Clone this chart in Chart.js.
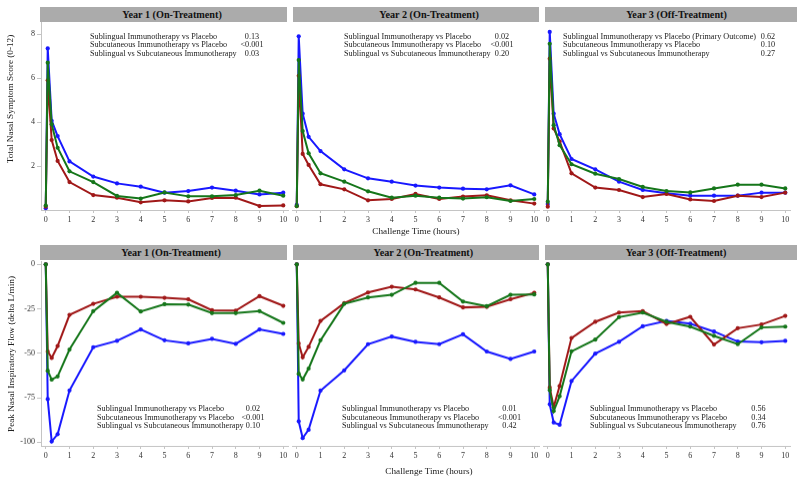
<!DOCTYPE html>
<html><head><meta charset="utf-8">
<script src="https://cdn.jsdelivr.net/npm/chart.js@4"></script>
<style>
html,body{margin:0;padding:0;background:#fff;}
body{width:800px;height:482px;position:relative;overflow:hidden;font-family:"Liberation Serif","Times New Roman",serif;color:#222;}
.hdr{position:absolute;background:#ababab;height:15px;}
.hdrtxt{position:absolute;font-weight:bold;font-size:10.2px;line-height:15px;white-space:nowrap;transform:translateX(-50%);color:#111;}
.cv{position:absolute;}
.ann{position:absolute;font-size:8.2px;line-height:9px;white-space:nowrap;}
.val{position:absolute;font-size:8.2px;line-height:9px;white-space:nowrap;transform:translateX(-50%);}
.xt{position:absolute;font-size:9.2px;white-space:nowrap;transform:translate(-50%,-50%);}
.yt{position:absolute;font-size:9.2px;white-space:nowrap;transform:translate(-50%,-50%) rotate(-90deg);}
</style></head><body>
<script>
// ---------------- DATA ----------------
const times = [0, 0.083, 0.25, 0.5, 1, 2, 3, 4, 5, 6, 7, 8, 9, 10];
const xTickValues = [0, 1, 2, 3, 4, 5, 6, 7, 8, 9, 10];
const tnssTicks = [2, 4, 6, 8];
const pnifTicks = [-100, -75, -50, -25, 0];
const panelTitles = ["Year 1 (On-Treatment)", "Year 2 (On-Treatment)", "Year 3 (Off-Treatment)"];

// Total Nasal Symptom Score
const tnssPlaceboY1 = [0.08, 7.35, 4.06, 3.36, 2.21, 1.52, 1.21, 1.06, 0.79, 0.86, 1.02, 0.88, 0.71, 0.79];
const tnssSlitY1    = [0.20, 6.70, 3.90, 2.83, 1.76, 1.27, 0.64, 0.52, 0.80, 0.62, 0.62, 0.68, 0.88, 0.65];
const tnssScitY1    = [0.15, 5.90, 3.18, 2.23, 1.27, 0.68, 0.56, 0.35, 0.44, 0.39, 0.55, 0.56, 0.18, 0.21];
const tnssPlaceboY2 = [0.23, 7.90, 4.38, 3.33, 2.68, 1.85, 1.44, 1.29, 1.11, 1.02, 0.97, 0.94, 1.12, 0.71];
const tnssSlitY2    = [0.18, 6.82, 3.59, 2.58, 1.67, 1.29, 0.85, 0.56, 0.65, 0.56, 0.52, 0.58, 0.41, 0.50];
const tnssScitY2    = [0.17, 6.10, 2.55, 2.05, 1.17, 0.94, 0.44, 0.50, 0.73, 0.50, 0.61, 0.67, 0.44, 0.29];
const tnssPlaceboY3 = [0.27, 8.10, 4.38, 3.45, 2.32, 1.85, 1.29, 0.91, 0.76, 0.65, 0.65, 0.65, 0.79, 0.79];
const tnssSlitY3    = [0.38, 7.56, 3.86, 2.95, 2.08, 1.65, 1.41, 1.05, 0.86, 0.80, 0.98, 1.15, 1.15, 0.98];
const tnssScitY3    = [0.15, 6.88, 3.71, 3.12, 1.67, 1.02, 0.91, 0.59, 0.73, 0.48, 0.41, 0.65, 0.59, 0.79];

// Peak Nasal Inspiratory Flow (delta L/min)
const pnifPlaceboY1 = [0, -75.8, -99.6, -95.5, -70.9, -46.6, -43.0, -36.6, -42.7, -44.4, -41.9, -44.7, -36.6, -39.1];
const pnifSlitY1    = [0, -59.8, -64.8, -63.0, -47.9, -26.3, -16.0, -26.5, -22.4, -22.6, -27.4, -27.4, -26.3, -32.9];
const pnifScitY1    = [0, -49.0, -52.6, -45.9, -28.4, -22.2, -18.2, -18.2, -18.8, -19.6, -25.8, -26.0, -17.9, -23.3];
const pnifPlaceboY2 = [0, -88.3, -97.7, -93.0, -71.0, -59.6, -44.9, -40.6, -43.6, -44.9, -39.3, -49.0, -53.2, -49.0];
const pnifSlitY2    = [0, -61.5, -64.7, -58.6, -42.7, -22.2, -18.6, -17.1, -10.4, -10.4, -20.9, -23.5, -17.1, -16.9];
const pnifScitY2    = [0, -44.5, -52.3, -46.4, -31.8, -21.8, -15.8, -12.6, -14.1, -18.6, -24.2, -23.9, -19.6, -16.0];
const pnifPlaceboY3 = [0, -78.7, -88.9, -90.2, -65.6, -50.2, -43.6, -34.8, -31.8, -33.3, -37.8, -43.4, -43.8, -43.0];
const pnifSlitY3    = [0, -70.7, -82.5, -74.2, -48.9, -42.3, -29.7, -27.1, -32.3, -35.0, -40.2, -44.9, -35.5, -35.0];
const pnifScitY3    = [0, -69.3, -80.2, -68.4, -41.4, -32.3, -27.1, -26.3, -33.5, -29.5, -45.1, -35.9, -33.8, -29.0];

// Comparison labels and p-values
const compTop = [
  ["Sublingual Immunotherapy vs Placebo", "Subcutaneous Immunotherapy vs Placebo", "Sublingual vs Subcutaneous Immunotherapy"],
  ["Sublingual Immunotherapy vs Placebo", "Subcutaneous Immunotherapy vs Placebo", "Sublingual vs Subcutaneous Immunotherapy"],
  ["Sublingual Immunotherapy vs Placebo (Primary Outcome)", "Subcutaneous Immunotherapy vs Placebo", "Sublingual vs Subcutaneous Immunotherapy"]
];
const compBottom = [
  ["Sublingual Immunotherapy vs Placebo", "Subcutaneous Immunotherapy vs Placebo", "Sublingual vs Subcutaneous Immunotherapy"],
  ["Sublingual Immunotherapy vs Placebo", "Subcutaneous Immunotherapy vs Placebo", "Sublingual vs Subcutaneous Immunotherapy"],
  ["Sublingual Immunotherapy vs Placebo", "Subcutaneous Immunotherapy vs Placebo", "Sublingual vs Subcutaneous Immunotherapy"]
];
const pTop = [["0.13", "<0.001", "0.03"], ["0.02", "<0.001", "0.20"], ["0.62", "0.10", "0.27"]];
const pBottom = [["0.02", "<0.001", "0.10"], ["0.01", "<0.001", "0.42"], ["0.56", "0.34", "0.76"]];

const yTitleTop = "Total Nasal Symptom Score (0-12)";
const yTitleBottom = "Peak Nasal Inspiratory Flow (delta L/min)";
const xTitle = "Challenge Time (hours)";

// ---------------- LAYOUT / STYLE ----------------
const FONT = '"Liberation Serif","Times New Roman",serif';
const COL_BLUE = '#1818ff', COL_GREEN = '#15761a', COL_RED = '#a01818';
const AXIS_COL = '#c4c4c4';
const cols = [
  {plotL: 41, hdrL: 40, hdrW: 247},
  {plotL: 292, hdrL: 293, hdrW: 246},
  {plotL: 543, hdrL: 545, hdrW: 252}
];
const PLOT_W = 247;
const rows = [
  {plotT: 22, plotH: 188, yMin: 0, yMax: 8.55, ticks: tnssTicks, hdrT: 7,
   titleX: [172, 429, 676.5],
   series: [[tnssSlitY1, tnssScitY1, tnssPlaceboY1], [tnssSlitY2, tnssScitY2, tnssPlaceboY2], [tnssSlitY3, tnssScitY3, tnssPlaceboY3]],
   comps: compTop, ps: pTop,
   annL: [90, 344, 563], valC: [252, 502, 768], annY: [36.7, 44.8, 53.0]},
  {plotT: 261, plotH: 184.5, yMin: -102.1, yMax: 1.86, ticks: pnifTicks, hdrT: 245,
   titleX: [171, 423.3, 676],
   series: [[pnifSlitY1, pnifScitY1, pnifPlaceboY1], [pnifSlitY2, pnifScitY2, pnifPlaceboY2], [pnifSlitY3, pnifScitY3, pnifPlaceboY3]],
   comps: compBottom, ps: pBottom,
   annL: [97, 342, 590], valC: [253, 509.5, 758.5], annY: [408.3, 417.0, 425.4]}
];

function el(cls, txt, css) {
  const d = document.createElement('div');
  d.className = cls;
  if (txt != null) d.textContent = txt;
  Object.assign(d.style, css);
  document.body.appendChild(d);
  return d;
}

function makePanel(r, c) {
  const row = rows[r], col = cols[c];
  const showY = c === 0;
  const padTop = 8, padRight = 8, xAxisH = 22;
  const padLeft = showY ? 0 : 4;
  const yW = showY ? col.plotL : 0;
  const left = col.plotL - yW - padLeft;
  const top = row.plotT - padTop;
  const w = padLeft + yW + PLOT_W + padRight;
  const h = padTop + row.plotH + xAxisH;
  const cv = document.createElement('canvas');
  cv.className = 'cv';
  cv.width = w; cv.height = h;
  cv.style.left = left + 'px'; cv.style.top = top + 'px';
  cv.style.width = w + 'px'; cv.style.height = h + 'px';
  document.body.appendChild(cv);
  const colors = [COL_GREEN, COL_RED, COL_BLUE];
  const ds = row.series[c].map((vals, i) => ({
    data: times.map((t, k) => ({x: t, y: vals[k]})),
    borderColor: colors[i], backgroundColor: colors[i],
    borderWidth: 2, pointRadius: 2.1, pointHoverRadius: 2.1, pointBorderWidth: 0,
    tension: 0, clip: false, fill: false
  }));
  new Chart(cv, {
    type: 'line',
    data: {datasets: ds},
    options: {
      responsive: false, animation: false, devicePixelRatio: 1,
      layout: {padding: {top: padTop, right: padRight, left: padLeft, bottom: 0}},
      plugins: {legend: {display: false}, tooltip: {enabled: false}, title: {display: false}},
      events: [],
      scales: {
        x: {
          type: 'linear', min: -0.2, max: 10.2,
          afterBuildTicks: s => { s.ticks = xTickValues.map(v => ({value: v})); },
          afterFit: s => { s.height = xAxisH; },
          grid: {drawOnChartArea: false, drawTicks: true, tickLength: 3, color: AXIS_COL},
          border: {display: true, color: AXIS_COL, width: 1},
          ticks: {font: {family: FONT, size: 8}, color: '#333', padding: 2, maxRotation: 0, autoSkip: false}
        },
        y: {
          type: 'linear', min: row.yMin, max: row.yMax, display: showY,
          afterBuildTicks: s => { s.ticks = row.ticks.map(v => ({value: v})); },
          afterFit: s => { s.width = yW; },
          grid: {drawOnChartArea: false, drawTicks: true, tickLength: 4, color: AXIS_COL},
          border: {display: true, color: AXIS_COL, width: 1},
          ticks: {font: {family: FONT, size: 8}, color: '#333', padding: 2, autoSkip: false}
        }
      }
    }
  });
  // header strip
  el('hdr', null, {left: col.hdrL + 'px', top: row.hdrT + 'px', width: col.hdrW + 'px'});
  el('hdrtxt', panelTitles[c], {left: row.titleX[c] + 'px', top: row.hdrT + 'px'});
  // comparison annotations
  for (let k = 0; k < 3; k++) {
    el('ann', row.comps[c][k], {left: row.annL[c] + 'px', top: (row.annY[k] - 4.5) + 'px'});
    el('val', row.ps[c][k], {left: row.valC[c] + 'px', top: (row.annY[k] - 4.5) + 'px'});
  }
}

for (let r = 0; r < 2; r++) for (let c = 0; c < 3; c++) makePanel(r, c);

el('yt', yTitleTop, {left: '10px', top: '98.5px'});
el('yt', yTitleBottom, {left: '10.5px', top: '354px'});
el('xt', xTitle, {left: '416px', top: '231px'});
el('xt', xTitle, {left: '429px', top: '470.5px'});
</script>
</body></html>
